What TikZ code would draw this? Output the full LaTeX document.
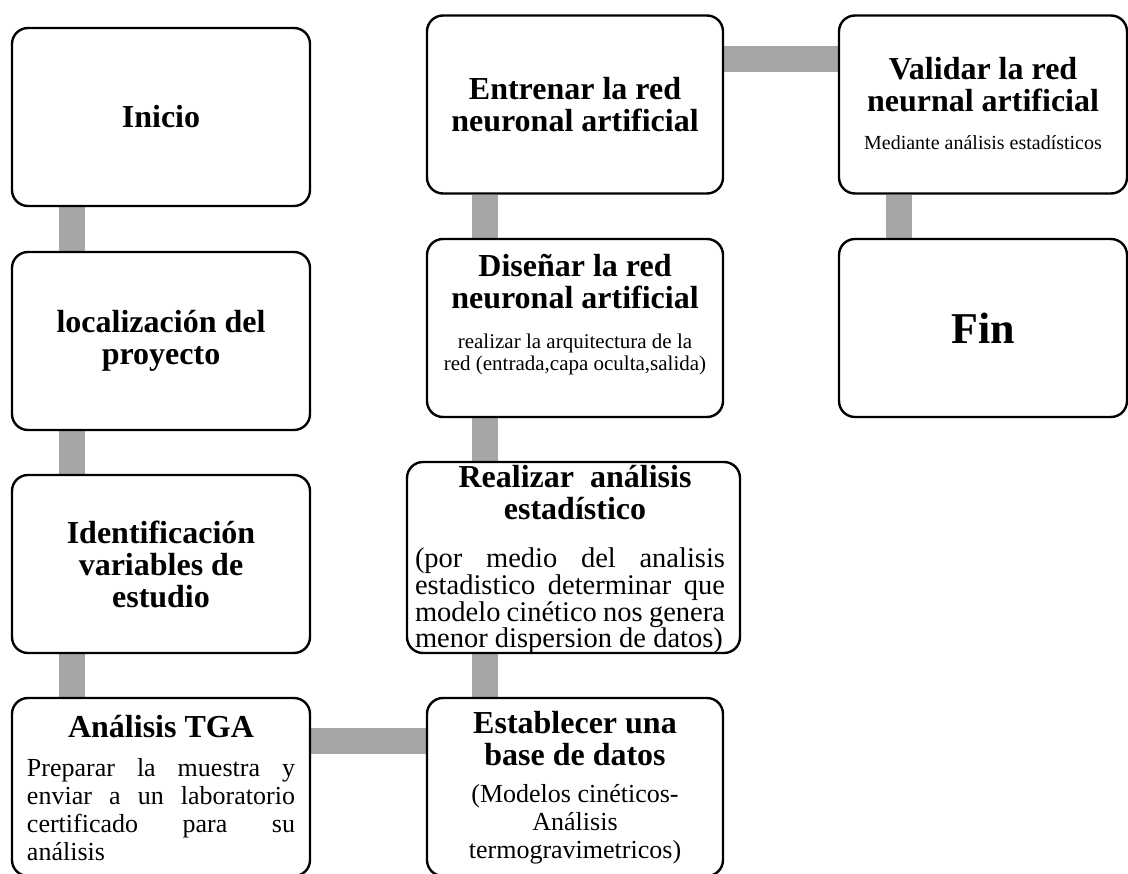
\documentclass[tikz,border=0pt]{standalone}
\usepackage{fontspec}
\setmainfont{Liberation Serif}
\usepackage{tikz}
\usetikzlibrary{positioning,backgrounds}
\definecolor{linkgray}{RGB}{166,166,166}
\newcommand{\ttl}{\fontsize{32}{32}\selectfont\bfseries}
\newcommand{\body}[1]{\fontsize{#1}{#1}\selectfont}

\begin{document}
\begin{tikzpicture}[x=1pt, y=-1pt,
  box/.style={draw, line width=2.4pt, rounded corners=16pt, fill=white, minimum width=298pt, minimum height=178pt, inner sep=0pt, align=center, font=\ttl},
  lab/.style={align=center, inner sep=0pt},
  link/.style={draw=linkgray, line width=26pt}
]
\useasboundingbox (0,0) rectangle (1128,874);

% first column
\node[box] (inicio) at (161,117) {Inicio};
\node[box] (loc) at (161,341) {localización del\\proyecto};
\node[box] (ident) at (161,564) {Identificación\\variables de\\estudio};
\node[box] (tga) at (161,787) {};
\node[lab, font=\ttl, anchor=base] (tgaT) at (161,737) {Análisis TGA};
\node[lab, font=\fontsize{26}{27.7}\selectfont, text width=268pt, align=justify] (tgaB) at (161,809.6)
  {Preparar la muestra y\linebreak enviar a un laboratorio\linebreak certificado para su\linebreak análisis};

% second column
\node[box, minimum width=296pt] (establecer) at (575,787) {};
\node[lab, font=\ttl] (establecerT) at (575,739) {Establecer una\\base de datos};
\node[lab, font=\fontsize{26}{28}\selectfont] (establecerB) at (575,824)
  {(Modelos cinéticos-\\Análisis\\termogravimetricos)};
\node[box, minimum width=333pt, minimum height=191pt] (realizar) at (573.5,557.5) {};
\node[lab, font=\ttl] (realizarT) at (575,493) {Realizar\ \ análisis\\estadístico};
\node[lab, font=\fontsize{28.5}{26.7}\selectfont, text width=310pt, align=justify] (realizarB) at (570,601)
  {(por medio del analisis\linebreak estadistico determinar que\linebreak modelo cinético nos genera\linebreak menor dispersion de datos)};
\node[box, minimum width=296pt] (disenar) at (575,328) {};
\node[lab, font=\ttl] (disenarT) at (575,281.5) {Diseñar la red\\neuronal artificial};
\node[lab, font=\fontsize{21}{22}\selectfont] (disenarB) at (575,354.5)
  {realizar la arquitectura de la\\red (entrada,capa oculta,salida)};
\node[box, minimum width=296pt] (entrenar) at (575,104.5) {Entrenar la red\\neuronal artificial};

% third column
\node[box, minimum width=288pt] (validar) at (983,104.5) {};
\node[lab, font=\ttl] (validarT) at (983,85) {Validar la red\\neurnal artificial};
\node[lab, font=\body{20}, anchor=base] (validarB) at (983,150) {Mediante análisis estadísticos};
\node[box, minimum width=288pt, font=\fontsize{44}{44}\selectfont\bfseries] (fin) at (983,328) {Fin};

\begin{scope}[on background layer]
\draw[link] ([xshift=61pt]inicio.south west) -- ([xshift=61pt]loc.north west);
\draw[link] ([xshift=61pt]loc.south west) -- ([xshift=61pt]ident.north west);
\draw[link] ([xshift=61pt]ident.south west) -- ([xshift=61pt]tga.north west);
\draw[link] ([yshift=-44.5pt]tga.north east) -- ([yshift=-44.5pt]establecer.north west);
\draw[link] ([xshift=59.5pt]establecer.north west) -- ([xshift=59.5pt]establecer.north west |- realizar.south);
\draw[link] ([xshift=59.5pt]disenar.south west |- realizar.north) -- ([xshift=59.5pt]disenar.south west);
\draw[link] ([xshift=59.5pt]disenar.north west) -- ([xshift=59.5pt]entrenar.south west);
\draw[link] ([yshift=-44.5pt]entrenar.north east) -- ([yshift=-44.5pt]validar.north west);
\draw[link] ([xshift=61.5pt]validar.south west) -- ([xshift=61.5pt]fin.north west);
\end{scope}
\end{tikzpicture}
\end{document}
